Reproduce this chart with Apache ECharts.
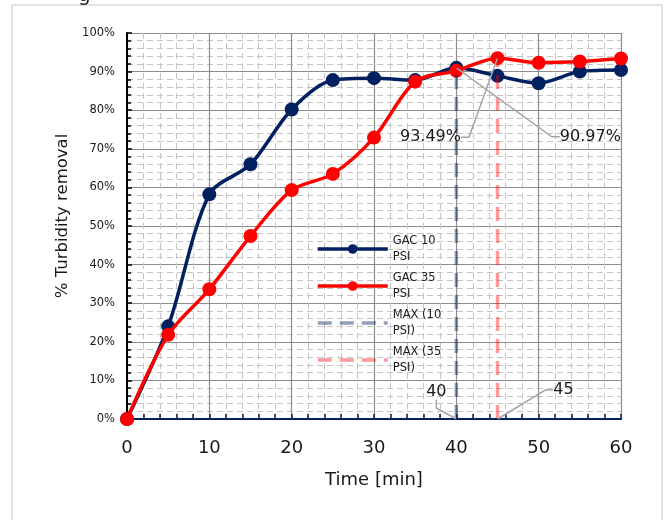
<!DOCTYPE html>
<html>
<head>
<meta charset="utf-8">
<script src="https://cdn.jsdelivr.net/npm/echarts@6/dist/echarts.min.js"></script>
<style>html,body{margin:0;padding:0;background:#fff;}#chart{width:672px;height:520px;}</style>
</head>
<body>
<div id="chart"></div>
<script>
const times = [0, 5, 10, 15, 20, 25, 30, 35, 40, 45, 50, 55, 60];
const gac10 = [0, 24.0, 58.2, 66.0, 80.2, 87.8, 88.3, 87.8, 90.97, 88.9, 87.0, 90.0, 90.4];
const gac35 = [0, 21.8, 33.6, 47.4, 59.3, 63.5, 72.9, 87.4, 90.2, 93.49, 92.3, 92.6, 93.4];
const max10 = [[40, 0], [40, 90.97]];
const max35 = [[45, 0], [45, 93.49]];
const max10Labels = ['40', '90.97%'];
const max35Labels = ['45', '93.49%'];
const legendNames = ['GAC 10 PSI', 'GAC 35 PSI', 'MAX (10 PSI)', 'MAX (35 PSI)'];
const legendTexts = ['GAC 10\nPSI', 'GAC 35\nPSI', 'MAX (10\nPSI)', 'MAX (35\nPSI)'];
const yTicks = [0, 10, 20, 30, 40, 50, 60, 70, 80, 90, 100];

const FONT = 'DejaVu Sans';
const chart = echarts.init(document.getElementById('chart'));

function pairs(xs, ys) { return xs.map((x, i) => [x, ys[i]]); }

const maxLabelOffsets10 = [[-20, -27], [134, 69]];
const maxLabelOffsets35 = [[66, -29], [-67, 79]];

function maxSeries(name, data, labels, color, offsets) {
  return {
    name: name,
    type: 'line',
    data: data,
    symbol: 'circle',
    symbolSize: 1,
    showSymbol: true,
    z: 5,
    itemStyle: { color: 'rgba(0,0,0,0)' },
    lineStyle: { color: color, width: 3.5, type: [14, 8] },
    label: {
      show: true,
      position: 'inside',
      formatter: p => labels[p.dataIndex],
      fontFamily: FONT,
      fontSize: 16,
      color: '#1a1a1a'
    },
    labelLayout: p => ({ dx: offsets[p.dataIndex][0], dy: offsets[p.dataIndex][1] }),
    labelLine: { show: true, length2: 8, lineStyle: { color: '#a6a6a6', width: 1.5 } },
    emphasis: { disabled: true }
  };
}

const option = {
  animation: false,
  backgroundColor: '#fff',
  graphic: [
    { type: 'rect', shape: { x: 12, y: 5, width: 650, height: 540 }, style: { fill: 'none', stroke: '#d9d9d9', lineWidth: 1.5 }, z: -10 },
    { type: 'text', left: 78, top: -14, style: { text: 'g', font: '20px ' + FONT, fill: '#222' } }
  ],
  grid: { left: 127, right: 51, top: 33, bottom: 101 },
  legend: {
    orient: 'vertical',
    left: 316,
    top: 225,
    padding: 0,
    itemGap: -11,
    itemWidth: 70,
    itemHeight: 12,
    data: legendNames,
    formatter: n => legendTexts[legendNames.indexOf(n)],
    lineStyle: { width: 3.5 },
    textStyle: { fontFamily: FONT, fontSize: 11.5, lineHeight: 16, color: '#1a1a1a', padding: [16, 0, 0, 0] }
  },
  xAxis: {
    type: 'value',
    min: 0, max: 60, interval: 10,
    name: 'Time [min]',
    nameLocation: 'middle',
    nameGap: 52,
    nameTextStyle: { fontFamily: FONT, fontSize: 18, color: '#1a1a1a' },
    axisLine: { show: true, onZero: false, lineStyle: { color: '#002060', width: 2 } },
    axisTick: { show: true, inside: true, length: 5, lineStyle: { color: '#002060', width: 1.5 } },
    minorTick: { show: true, splitNumber: 5, length: 5, lineStyle: { color: '#002060', width: 1.5 } },
    axisLabel: { fontFamily: FONT, fontSize: 18, color: '#1a1a1a', margin: 20 },
    splitLine: { show: true, lineStyle: { color: '#8c8c8c', width: 1.2 } },
    minorSplitLine: { show: true, lineStyle: { color: '#c4c4c4', width: 1, type: [6, 4] } }
  },
  yAxis: {
    type: 'value',
    min: 0, max: 100, interval: 10,
    name: '% Turbidity removal',
    nameLocation: 'middle',
    nameGap: 56,
    nameTextStyle: { fontFamily: FONT, fontSize: 16.5, color: '#1a1a1a', padding: [0, 0, 0, 20] },
    axisLine: { show: true, lineStyle: { color: '#000', width: 2 } },
    axisTick: { show: true, inside: true, length: 5, lineStyle: { color: '#000', width: 1.5 } },
    minorTick: { show: true, splitNumber: 5, length: 4, lineStyle: { color: '#000', width: 1.5 } },
    axisLabel: { fontFamily: FONT, fontSize: 11.5, color: '#1a1a1a', margin: 12, formatter: v => (yTicks.includes(v) ? v + '%' : '') },
    splitLine: { show: true, lineStyle: { color: '#8c8c8c', width: 1.2 } },
    minorSplitLine: { show: true, lineStyle: { color: '#c4c4c4', width: 1, type: [6, 4] } }
  },
  series: [
    {
      name: 'GAC 10 PSI', type: 'line', data: pairs(times, gac10), smooth: 0.3,
      symbol: 'circle', symbolSize: 14, z: 3,
      itemStyle: { color: '#002060' }, lineStyle: { color: '#002060', width: 3.5 }
    },
    {
      name: 'GAC 35 PSI', type: 'line', data: pairs(times, gac35), smooth: 0.3,
      symbol: 'circle', symbolSize: 14, z: 4,
      itemStyle: { color: '#ff0000' }, lineStyle: { color: '#ff0000', width: 3.5 }
    },
    maxSeries('MAX (10 PSI)', max10, max10Labels, 'rgba(0,32,96,0.43)', maxLabelOffsets10),
    maxSeries('MAX (35 PSI)', max35, max35Labels, 'rgba(255,0,0,0.4)', maxLabelOffsets35)
  ]
};
chart.setOption(option);
</script>
</body>
</html>
